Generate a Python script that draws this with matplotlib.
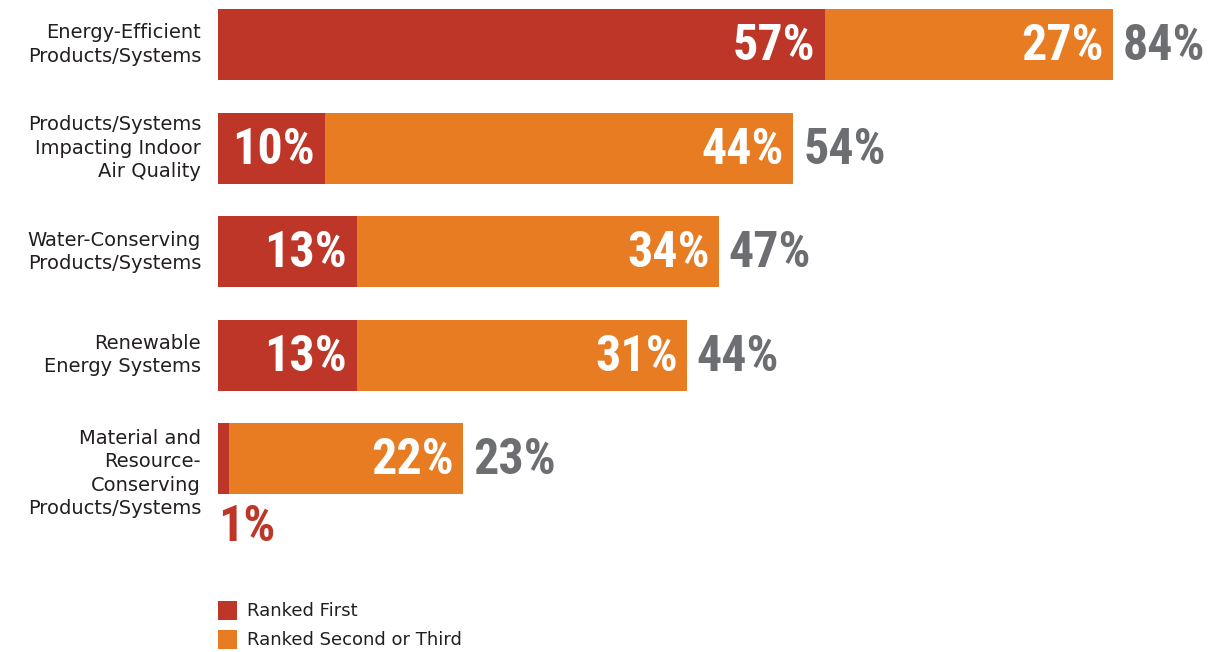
import matplotlib.pyplot as plt
from matplotlib import font_manager
from matplotlib.patches import Rectangle

# Survey shares (percent of respondents)
categories = [
    "Energy-Efficient\nProducts/Systems",
    "Products/Systems\nImpacting Indoor\nAir Quality",
    "Water-Conserving\nProducts/Systems",
    "Renewable\nEnergy Systems",
    "Material and\nResource-\nConserving\nProducts/Systems",
]
ranked_first = [57, 10, 13, 13, 1]
ranked_second_third = [27, 44, 34, 31, 22]
totals = [84, 54, 47, 44, 23]
legend_labels = ["Ranked First", "Ranked Second or Third"]

RED = "#BE3627"
ORANGE = "#E87C23"
GRAY = "#6D6E72"
DARK = "#231F20"

LABEL_FONT = ["DejaVu Sans"]


def pick_narrow():
    # look for a condensed bold face for the big numbers
    for fam, stretch in [("Roboto Condensed", "normal"),
                         ("Liberation Sans Narrow", "normal"),
                         ("DejaVu Sans", "condensed")]:
        fp = font_manager.FontProperties(family=fam, weight="bold", stretch=stretch)
        try:
            path = font_manager.findfont(fp, fallback_to_default=False)
        except ValueError:
            continue
        name = path.lower()
        if "condensed" in name or "narrow" in name:
            return dict(family=[fam], stretch=stretch), True
    return dict(family=["Roboto"]), False


num_font, is_narrow = pick_narrow()
num_size = 36 if is_narrow else 31

W, H = 1222, 652
fig = plt.figure(figsize=(W / 100, H / 100), dpi=100)

# axes spans from the bar baseline to the right edge; 1% = 10.655 px
x0_px = 218
px_per_pct = 10.655
row_px = 103.6
first_center_px = 44.5
ax = fig.add_axes([x0_px / W, 0, 1 - x0_px / W, 1])
ax.set_xlim(0, (W - x0_px) / px_per_pct)
ax.set_ylim((H - first_center_px) / row_px, -first_center_px / row_px)
ax.axis("off")

ys = list(range(len(categories)))
bar_h = 71 / row_px
ax.barh(ys, ranked_first, height=bar_h, color=RED, linewidth=0)
ax.barh(ys, ranked_second_third, left=ranked_first, height=bar_h,
        color=ORANGE, linewidth=0)

pad = 10 / px_per_pct
num_kw = dict(weight="bold", fontsize=num_size, va="center", **num_font)
for y, a, b, t in zip(ys, ranked_first, ranked_second_third, totals):
    yt = y + 0.02
    if a >= 5:
        ax.text(a - pad, yt, f"{a}%", ha="right", color="white", **num_kw)
    else:
        # sliver too thin for a label: put it below the bar
        ax.text(0, y + 0.66, f"{a}%", ha="left", color=RED, **num_kw)
    ax.text(a + b - pad * 0.9, yt, f"{b}%", ha="right", color="white", **num_kw)
    ax.text(t + pad, yt, f"{t}%", ha="left", color=GRAY, **num_kw)

    ly = y + (0.14 if categories[y].count("\n") == 3 else 0.0)
    ax.text(-17 / px_per_pct, ly, categories[y], ha="right", va="center",
            family=LABEL_FONT, fontsize=14, color=DARK, linespacing=1.28)

# legend swatches in pixel units
for i, (lab, col) in enumerate(zip(legend_labels, [RED, ORANGE])):
    top = 601 + 29 * i
    fig.add_artist(Rectangle((218 / W, 1 - (top + 19) / H), 19 / W, 19 / H,
                             transform=fig.transFigure, color=col, lw=0))
    fig.text(247 / W, 1 - (top + 10) / H, lab, ha="left", va="center",
             family=LABEL_FONT, fontsize=13, color=DARK)

fig.savefig("out.png", dpi=100, facecolor="white")
